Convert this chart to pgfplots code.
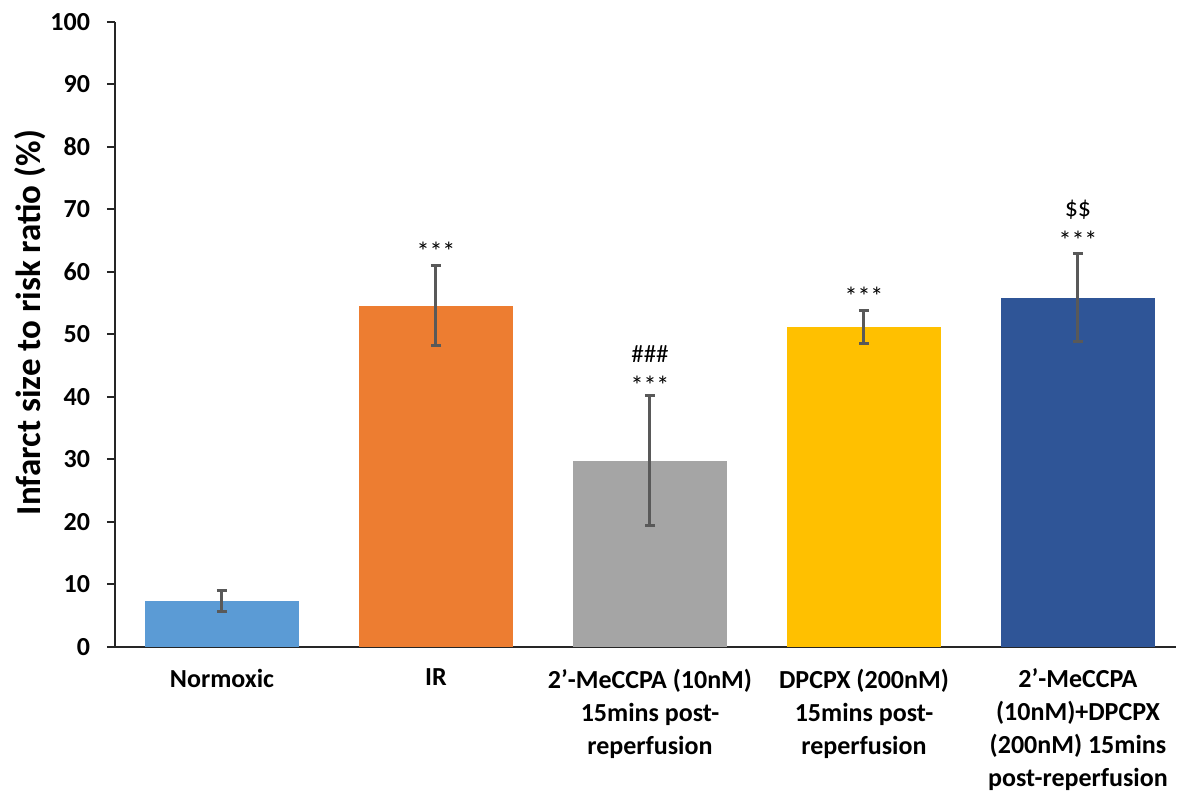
\documentclass[border=0pt]{standalone}
\usepackage{pgfplots}
\pgfplotsset{compat=1.18}
\usepackage{fontspec}
\setmainfont{Carlito}
\definecolor{cNorm}{HTML}{5B9BD5}
\definecolor{cIR}{HTML}{ED7D31}
\definecolor{cGray}{HTML}{A5A5A5}
\definecolor{cYel}{HTML}{FFC000}
\definecolor{cBlue}{HTML}{2F5597}
\definecolor{cErr}{HTML}{595959}
\definecolor{cAxis}{HTML}{262626}
\pgfplotsset{
  mybar/.style={ybar, bar width=77pt, bar shift=0pt, draw=none,
    error bars/y dir=both, error bars/y explicit,
    error bars/error bar style={line width=1.5pt, draw=cErr},
    error bars/error mark options={line width=1.5pt, draw=cErr, mark size=2.6pt, rotate=90}},
}
\begin{document}
\begin{tikzpicture}
\useasboundingbox (-57.5pt,-72.5pt) rectangle (531pt,323.5pt);
\begin{axis}[
  at={(0,0)}, anchor=south west,
  scale only axis, width=530.7pt, height=312.5pt,
  xmin=-0.5, xmax=4.46, ymin=0, ymax=100,
  axis x line=bottom, axis y line=left,
  axis line style={-, line width=1pt, color=cAxis},
  xtick={0,1,2,3,4},
  x tick style={draw=none},
  xticklabels={{Normoxic},{IR},{2’-MeCCPA (10nM)\\15mins post-\\reperfusion},{DPCPX (200nM)\\15mins post-\\reperfusion},{2’-MeCCPA\\(10nM)+DPCPX\\(200nM) 15mins\\post-reperfusion}},
  xticklabel style={align=center, font=\fontsize{13}{16.5}\selectfont\bfseries, anchor=north, yshift=-3.5pt},
  ytick={0,10,...,100},
  tick align=outside, major tick length=4pt,
  y tick style={line width=1pt, color=cAxis},
  yticklabel style={font=\fontsize{13}{15}\selectfont\bfseries, xshift=-5pt},
  /pgf/number format/assume math mode=true,
  ylabel={Infarct size to risk ratio (\%)},
  ylabel style={font=\fontsize{17.5}{21}\selectfont\bfseries, at={(axis description cs:-0.0801,0.519)}, anchor=center},
  clip=false,
]
\addplot[mybar, fill=cNorm] table[x=x, y=y, y error plus=p, y error minus=m] {
x y p m
0 7.4 1.6 1.75
};
\addplot[mybar, fill=cIR] table[x=x, y=y, y error plus=p, y error minus=m] {
x y p m
1 54.6 6.4 6.4
};
\addplot[mybar, fill=cGray] table[x=x, y=y, y error plus=p, y error minus=m] {
x y p m
2 29.7 10.5 10.3
};
\addplot[mybar, fill=cYel] table[x=x, y=y, y error plus=p, y error minus=m] {
x y p m
3 51.2 2.7 2.7
};
\addplot[mybar, fill=cBlue] table[x=x, y=y, y error plus=p, y error minus=m] {
x y p m
4 55.9 7.1 7.1
};
\node[font=\fontsize{13}{14}\selectfont] at (axis cs:1,63.3) {***};
\node[font=\fontsize{12.5}{14}\selectfont] at (axis cs:2,46.9) {\#\#\#};
\node[font=\fontsize{13}{14}\selectfont] at (axis cs:2,41.9) {***};
\node[font=\fontsize{13}{14}\selectfont] at (axis cs:3,56.1) {***};
\node[font=\fontsize{13}{14}\selectfont] at (axis cs:4,69.9) {\$\$};
\node[font=\fontsize{13}{14}\selectfont] at (axis cs:4,65.1) {***};
\end{axis}
\end{tikzpicture}
\end{document}
